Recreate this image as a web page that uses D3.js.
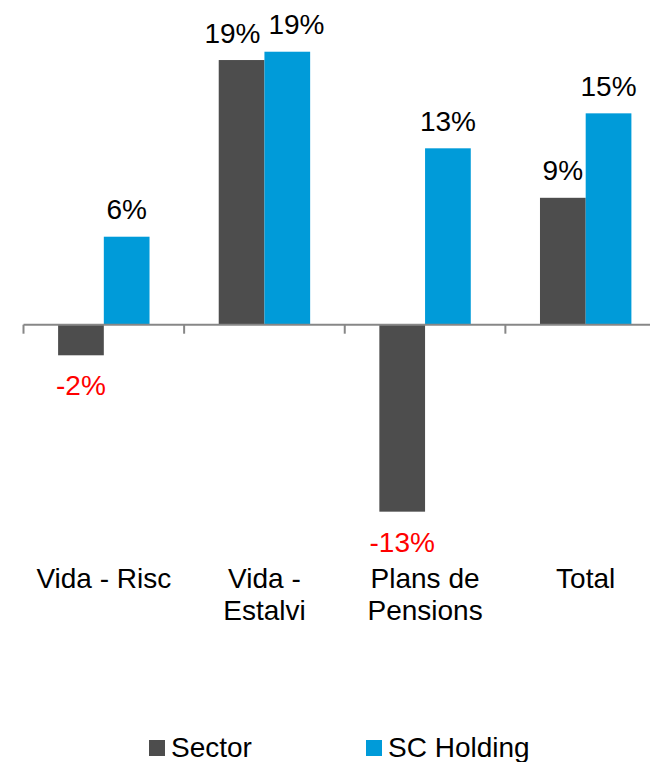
<!DOCTYPE html>
<html>
<head>
<meta charset="utf-8">
<script src="https://cdn.jsdelivr.net/npm/d3@7"></script>
<style>
  body { margin: 0; background: #fff; }
  svg { display: block; font-family: "Liberation Sans", Arial, sans-serif; }
</style>
</head>
<body>
<svg id="chart" width="650" height="762"></svg>
<script>
// chart data
const categories = ["Vida - Risc", "Vida - Estalvi", "Plans de Pensions", "Total"];
const categoryLines = [["Vida - Risc"], ["Vida -", "Estalvi"], ["Plans de", "Pensions"], ["Total"]];
const seriesNames = ["Sector", "SC Holding"];
const sectorValues = [-0.0217, 0.1877, -0.1326, 0.09];
const holdingValues = [0.0624, 0.1936, 0.1251, 0.1499];
const seriesColors = ["#4d4d4d", "#009bd9"];

const rows = categories.map((c, i) => ({
  category: c,
  values: [sectorValues[i], holdingValues[i]]
}));

const svg = d3.select("#chart");
const axisY = 324.7;

const x0 = d3.scaleBand()
  .domain(categories)
  .range([23.5, 666])
  .padding(0);

const x1 = d3.scaleBand()
  .domain(seriesNames)
  .range([0, x0.bandwidth()])
  .paddingInner(0)
  .paddingOuter(0.757);

const y = d3.scaleLinear()
  .domain([-0.15, 0.20])
  .range([536.2, 42.7]);

// hyphen minus like the original, not the unicode minus
const fmt = d3.formatLocale({ decimal: ".", thousands: ",", grouping: [3], currency: ["", ""], minus: "-" }).format(".0%");

// bars
const groups = svg.append("g")
  .selectAll("g")
  .data(rows)
  .join("g")
    .attr("transform", d => `translate(${x0(d.category)},0)`);

groups.selectAll("rect")
  .data(d => d.values.map((v, i) => ({ series: seriesNames[i], value: v, idx: i })))
  .join("rect")
    .attr("x", d => x1(d.series))
    .attr("width", x1.bandwidth())
    .attr("y", d => y(Math.max(0, d.value)))
    .attr("height", d => Math.abs(y(d.value) - y(0)))
    .attr("fill", d => seriesColors[d.idx]);

// value labels
const labelY = d => d.value >= 0 ? y(d.value) - 17.5 : y(d.value) + 40;

groups.each(function() {
  const g = d3.select(this);
  const texts = g.selectAll("text")
    .data(d => d.values.map((v, i) => ({ series: seriesNames[i], value: v, cx: x1(seriesNames[i]) + x1.bandwidth() / 2 })))
    .join("text")
      .attr("y", labelY)
      .attr("text-anchor", "middle")
      .attr("font-size", 28)
      .attr("fill", d => d.value >= 0 ? "#000" : "#ff0000")
      .text(d => fmt(d.value));

  // push apart labels that would collide
  const nodes = texts.nodes();
  const a = texts.data()[0], b = texts.data()[1];
  if (Math.abs(labelY(a) - labelY(b)) < 22) {
    const wa = nodes[0].getComputedTextLength(), wb = nodes[1].getComputedTextLength();
    const overlap = (a.cx + wa / 2 + 8) - (b.cx - wb / 2);
    if (overlap > 0) {
      a.cx -= overlap / 2;
      b.cx += overlap / 2;
    }
  }
  texts.attr("x", d => d.cx);
});

// category axis
const axis = svg.append("g");
axis.append("line")
  .attr("x1", x0.range()[0])
  .attr("x2", 650)
  .attr("y1", axisY)
  .attr("y2", axisY)
  .attr("stroke", "#878787")
  .attr("stroke-width", 2);

axis.selectAll("line.tick")
  .data(categories)
  .join("line")
    .attr("class", "tick")
    .attr("x1", d => x0(d))
    .attr("x2", d => x0(d))
    .attr("y1", axisY)
    .attr("y2", axisY + 9)
    .attr("stroke", "#878787")
    .attr("stroke-width", 2);

const labels = svg.append("g")
  .selectAll("text")
  .data(categories)
  .join("text")
    .attr("text-anchor", "middle")
    .attr("font-size", 28)
    .attr("fill", "#000")
    .attr("x", d => x0(d) + x0.bandwidth() / 2)
    .attr("y", 588);

labels.selectAll("tspan")
  .data((d, i) => categoryLines[i])
  .join("tspan")
    .attr("x", function() { return d3.select(this.parentNode).attr("x"); })
    .attr("dy", (d, i) => i === 0 ? 0 : 32)
    .text(d => d);

// legend
const legendX = [149, 366];
const legend = svg.append("g")
  .selectAll("g")
  .data(seriesNames)
  .join("g")
    .attr("transform", (d, i) => `translate(${legendX[i]},740)`);

legend.append("rect")
  .attr("width", 16)
  .attr("height", 16)
  .attr("fill", (d, i) => seriesColors[i]);

legend.append("text")
  .attr("x", 22)
  .attr("y", 16.5)
  .attr("font-size", 28)
  .attr("fill", "#000")
  .text(d => d);
</script>
</body>
</html>
